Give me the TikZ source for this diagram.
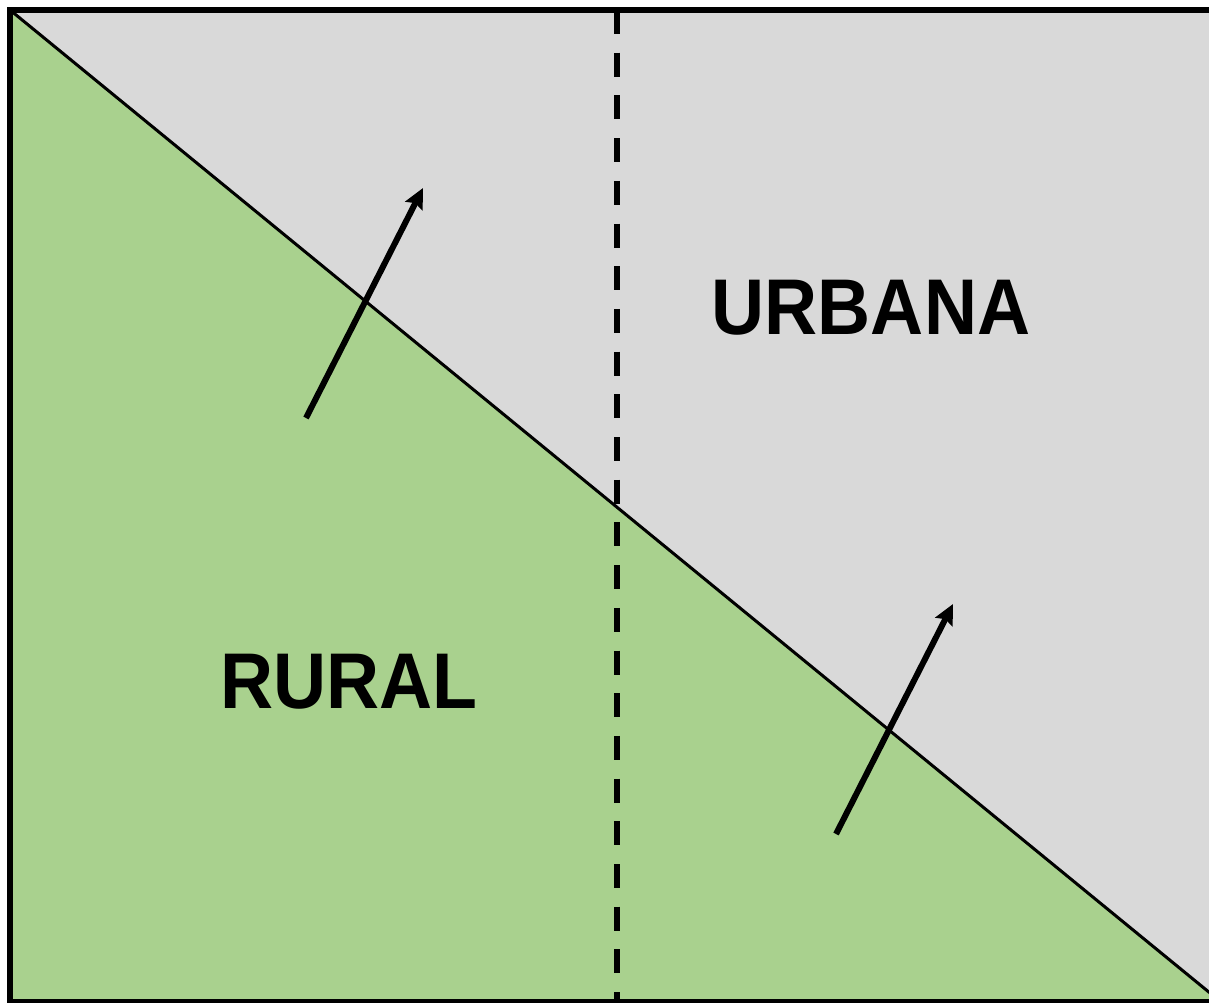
\documentclass[tikz,border=0pt]{standalone}
\usepackage{fontspec}
\setmainfont{Liberation Sans}
\usetikzlibrary{arrows.meta}
\definecolor{urbgray}{HTML}{D9D9D9}
\definecolor{rurgreen}{HTML}{A9D18E}
\tikzset{
  frameline/.style={line width=6pt, line join=miter},
  diagline/.style={line width=3pt},
  dashline/.style={line width=6pt, dash pattern=on 24pt off 18.7pt},
  flowarrow/.style={line width=6pt, -{Stealth[length=20pt, width=19pt, inset=3pt]}},
  zonelabel/.style={inner sep=0pt, font=\fontsize{79}{79}\selectfont\bfseries}
}
\begin{document}
\begin{tikzpicture}[x=1pt,y=-1pt]
\useasboundingbox (0,0) rectangle (1209,1003);
\clip (0,0) rectangle (1209,1003);
\coordinate (tl) at (10,10);
\coordinate (bl) at (10,1002);
\coordinate (br) at (1221,1002);
\coordinate (tr) at (1221,10);
\fill[urbgray] (tl) rectangle (br);
\fill[rurgreen] (tl) -- (bl) -- (br) -- cycle;
\draw[diagline] (tl) -- (br);
\coordinate (dtop) at (616.5,10);
\coordinate (dbot) at (616.5,1002);
\draw[dashline] (dtop) -- (dbot);
\coordinate (a1s) at (306,418);
\coordinate (a1e) at (423,188);
\coordinate (a2s) at (836,834);
\coordinate (a2e) at (953,604);
\draw[flowarrow] (a1s) -- (a1e);
\draw[flowarrow] (a2s) -- (a2e);
\draw[frameline] (tl) rectangle (br);
\node[zonelabel] (urbana) at (871,307.5) {\scalebox{0.93}[1]{URBANA}};
\node[zonelabel] (rural) at (349,682) {\scalebox{0.93}[1]{RURAL}};
\end{tikzpicture}
\end{document}
